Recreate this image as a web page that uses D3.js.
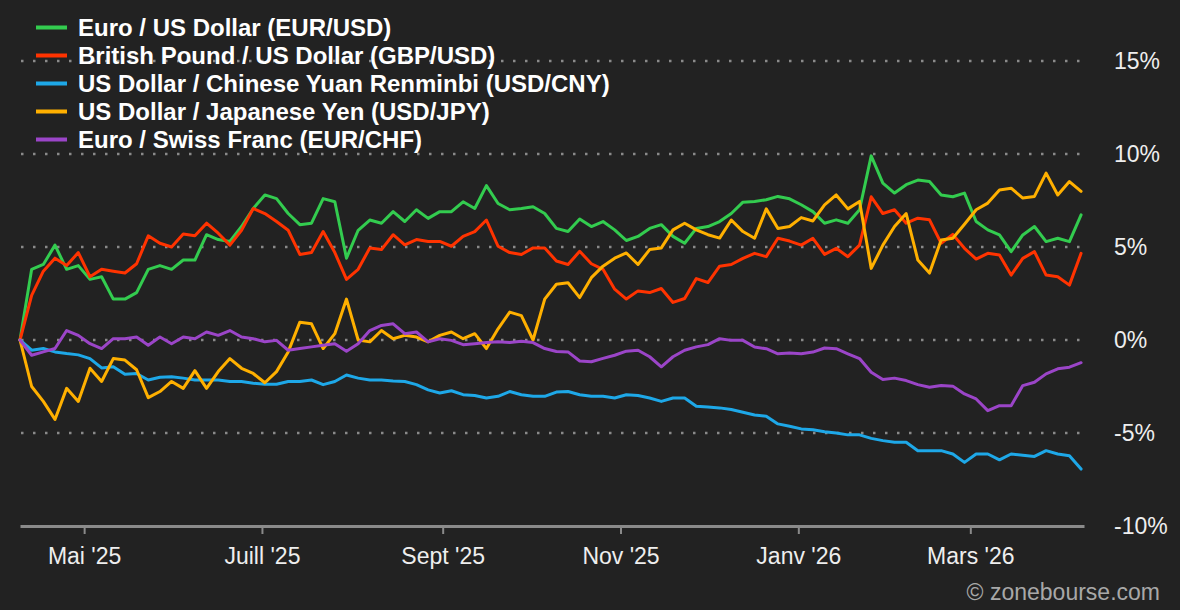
<!DOCTYPE html>
<html lang="fr">
<head>
  <meta charset="UTF-8">
  <title>Devises - performance sur 1 an</title>
  <script src="https://d3js.org/d3.v7.min.js"></script>
  <style>
    html, body { margin: 0; padding: 0; background: #222222; }
    body { font-family: "Liberation Sans", Arial, sans-serif; }
    svg text { font-family: "Liberation Sans", Arial, sans-serif; }
  </style>
</head>
<body>
  <svg id="chart" width="1180" height="610"></svg>

  <script>
    // sampled every 4 days starting 9 Apr 2025, values in % change
    const startDate = new Date(2025, 3, 9);
    const stepDays = 4;

    const eurUsd = [0, 3.8, 4.06, 5.1, 3.8, 4.0, 3.26, 3.4, 2.2, 2.2, 2.55, 3.8, 4.0, 3.8, 4.3, 4.3,
      5.66, 5.4, 5.3, 6.1, 7.07, 7.8, 7.6, 6.8, 6.2, 6.28, 7.6, 7.43, 4.4, 5.9, 6.45,
      6.28, 6.9, 6.37, 7.0, 6.54, 6.9, 6.9, 7.43, 7.07, 8.3, 7.34, 7.0, 7.07, 7.16, 6.8,
      6.0, 5.83, 6.5, 6.1, 6.37, 5.92, 5.35, 5.57, 6.0, 6.2, 5.57, 5.2, 6.0, 6.1, 6.37, 6.8,
      7.41, 7.45, 7.54, 7.72, 7.59, 7.27, 6.9, 6.28, 6.46, 6.28, 7.0, 9.9, 8.43, 7.9, 8.35,
      8.6, 8.52, 7.8, 7.7, 7.9, 6.37, 5.92, 5.65, 4.75, 5.65, 6.1, 5.29, 5.47, 5.29, 6.73];

    const gbpUsd = [0, 2.4, 3.7, 4.4, 4.0, 4.7, 3.4, 3.8, 3.7, 3.6, 4.1, 5.6, 5.2, 5.0, 5.7, 5.6,
      6.28, 5.74, 5.1, 5.9, 7.07, 6.8, 6.37, 5.9, 4.6, 4.7, 5.83, 4.7, 3.26, 3.8, 4.95,
      4.86, 5.66, 5.12, 5.4, 5.3, 5.3, 5.04, 5.57, 5.83, 6.45, 5.04, 4.7, 4.6, 4.95, 4.95,
      4.25, 4.06, 4.77, 4.1, 3.8, 2.73, 2.2, 2.64, 2.55, 2.77, 2.02, 2.23, 3.3, 3.09, 3.97, 4.06,
      4.39, 4.66, 4.48, 5.47, 5.32, 5.1, 5.47, 4.6, 4.93, 4.48, 5.1, 7.7, 6.8, 7.0, 6.28,
      6.55, 6.46, 5.2, 5.68, 4.93, 4.35, 4.66, 4.57, 3.49, 4.39, 4.75, 3.49, 3.4, 2.95, 4.66];

    const usdCny = [0, -0.55, -0.46, -0.64, -0.73, -0.8, -1.0, -1.5, -1.44, -1.84, -1.8, -2.15, -2.0, -1.97, -2.05, -2.15,
      -2.15, -2.15, -2.23, -2.23, -2.32, -2.38, -2.38, -2.23, -2.23, -2.15, -2.4, -2.23, -1.88, -2.05, -2.15,
      -2.15, -2.2, -2.23, -2.4, -2.68, -2.85, -2.73, -2.94, -2.98, -3.12, -3.03, -2.77, -2.94, -3.03, -3.03,
      -2.8, -2.77, -2.94, -3.03, -3.03, -3.12, -2.94, -2.98, -3.12, -3.3, -3.12, -3.12, -3.56, -3.6, -3.65, -3.74,
      -3.88, -4.03, -4.1, -4.51, -4.64, -4.78, -4.82, -4.93, -5.0, -5.1, -5.1, -5.29, -5.41, -5.5, -5.5,
      -5.95, -5.95, -5.95, -6.13, -6.58, -6.13, -6.13, -6.44, -6.13, -6.19, -6.26, -5.95, -6.13, -6.22, -6.94];

    const usdJpy = [0, -2.5, -3.3, -4.27, -2.6, -3.3, -1.52, -2.23, -1.0, -1.08, -1.6, -3.1, -2.77, -2.23, -2.6, -1.65,
      -2.6, -1.7, -1.0, -1.52, -1.8, -2.3, -1.7, -0.64, 0.96, 0.87, -0.46, 0.34, 2.2, 0, -0.1,
      0.51, 0.07, 0.25, 0.16, -0.1, 0.25, 0.43, 0.07, 0.34, -0.46, 0.6, 1.5, 1.31, 0, 2.2,
      3.0, 3.08, 2.28, 3.35, 3.97, 4.4, 4.68, 4.06, 4.86, 4.95, 5.92, 6.28, 5.92, 5.66, 5.48, 6.45,
      5.83, 5.47, 7.05, 6.0, 6.1, 6.58, 6.4, 7.27, 7.8, 7.05, 7.45, 3.85, 5.1, 6.1, 6.8,
      4.3, 3.6, 5.38, 5.47, 6.22, 7.0, 7.36, 8.07, 8.16, 7.63, 7.72, 8.97, 7.8, 8.52, 7.99];

    const eurChf = [0, -0.82, -0.64, -0.46, 0.51, 0.25, -0.2, -0.46, 0.07, 0.07, 0.16, -0.28, 0.16, -0.2, 0.16, 0.07,
      0.43, 0.25, 0.51, 0.16, 0.07, -0.1, -0.02, -0.55, -0.46, -0.37, -0.28, -0.2, -0.6, -0.2, 0.51,
      0.78, 0.87, 0.34, 0.43, -0.1, 0.07, -0.02, -0.25, -0.2, -0.14, -0.1, -0.14, -0.07, -0.14, -0.46,
      -0.62, -0.64, -1.13, -1.17, -0.99, -0.82, -0.6, -0.55, -0.9, -1.44, -0.9, -0.55, -0.37, -0.25, 0.07, -0.02,
      -0.02, -0.38, -0.47, -0.74, -0.7, -0.74, -0.65, -0.43, -0.47, -0.74, -1.0, -1.73, -2.12, -2.05, -2.18,
      -2.4, -2.54, -2.45, -2.48, -2.9, -3.17, -3.8, -3.53, -3.53, -2.45, -2.27, -1.82, -1.55, -1.46, -1.22];

    const seriesNames = [
      "Euro / US Dollar (EUR/USD)",
      "British Pound / US Dollar (GBP/USD)",
      "US Dollar / Chinese Yuan Renminbi (USD/CNY)",
      "US Dollar / Japanese Yen (USD/JPY)",
      "Euro / Swiss Franc (EUR/CHF)"
    ];
    const seriesValues = [eurUsd, gbpUsd, usdCny, usdJpy, eurChf];
    const seriesColors = ["#33cc4f", "#ff3300", "#1ea8e8", "#ffb000", "#9b45c8"];

    const yTicks = [15, 10, 5, 0, -5, -10];
    const monthTicks = [
      new Date(2025, 4, 1), new Date(2025, 6, 1), new Date(2025, 8, 1),
      new Date(2025, 10, 1), new Date(2026, 0, 1), new Date(2026, 2, 1)
    ];
    const monthLabels = ["Mai '25", "Juill '25", "Sept '25", "Nov '25", "Janv '26", "Mars '26"];

    const dates = eurUsd.map((_, i) => d3.timeDay.offset(startDate, i * stepDays));

    const svg = d3.select("#chart");
    const plotLeft = 20, plotRight = 1084, plotTop = 61, plotBottom = 526;

    const x = d3.scaleTime()
      .domain([startDate, d3.timeDay.offset(startDate, 365)])
      .range([plotLeft, plotRight]);

    const y = d3.scaleLinear()
      .domain([-10, 15])
      .range([plotBottom, plotTop]);

    // dotted grid
    svg.append("g")
      .selectAll("line")
      .data(yTicks.filter(t => t > -10))
      .join("line")
      .attr("x1", plotLeft + 1)
      .attr("x2", plotRight - 2)
      .attr("y1", d => y(d))
      .attr("y2", d => y(d))
      .attr("stroke", "#8a8a8a")
      .attr("stroke-width", 2.5)
      .attr("stroke-dasharray", "2.5,9.5");

    // right axis labels
    svg.append("g")
      .selectAll("text")
      .data(yTicks)
      .join("text")
      .attr("x", 1114)
      .attr("y", d => y(d) + 8)
      .attr("fill", "#eeeeee")
      .attr("font-size", "23px")
      .text(d => d + "%");

    // bottom axis
    const xAxis = svg.append("g")
      .attr("transform", `translate(0,${plotBottom})`)
      .call(d3.axisBottom(x).tickValues(monthTicks).tickSize(8).tickSizeOuter(0)
        .tickFormat((d, i) => monthLabels[i]));
    xAxis.select(".domain")
      .attr("stroke", "#8a8a8a")
      .attr("stroke-width", 3);
    xAxis.selectAll(".tick line")
      .attr("stroke", "#8a8a8a")
      .attr("stroke-width", 2);
    xAxis.selectAll(".tick text")
      .attr("fill", "#eeeeee")
      .attr("font-size", "23px")
      .attr("y", 22)
      .attr("dy", "0.71em");

    // lines
    const line = d3.line()
      .x((d, i) => x(dates[i]))
      .y(d => y(d));

    svg.append("g")
      .selectAll("path")
      .data(seriesValues)
      .join("path")
      .attr("d", d => line(d))
      .attr("fill", "none")
      .attr("stroke", (d, i) => seriesColors[i])
      .attr("stroke-width", 3)
      .attr("stroke-linejoin", "round")
      .attr("stroke-linecap", "round");

    // legend
    const legend = svg.append("g")
      .selectAll("g")
      .data(seriesNames)
      .join("g")
      .attr("transform", (d, i) => `translate(36,${27.5 + i * 28})`);

    legend.append("line")
      .attr("x1", 0).attr("x2", 31)
      .attr("stroke", (d, i) => seriesColors[i])
      .attr("stroke-width", 4);

    legend.append("text")
      .attr("x", 42)
      .attr("y", 8.5)
      .attr("fill", "#ffffff")
      .attr("font-size", "24px")
      .attr("font-weight", "bold")
      .text(d => d);

    svg.append("text")
      .attr("x", 1160)
      .attr("y", 600)
      .attr("text-anchor", "end")
      .attr("fill", "#a8a8a8")
      .attr("font-size", "23px")
      .text("© zonebourse.com");
  </script>
</body>
</html>
